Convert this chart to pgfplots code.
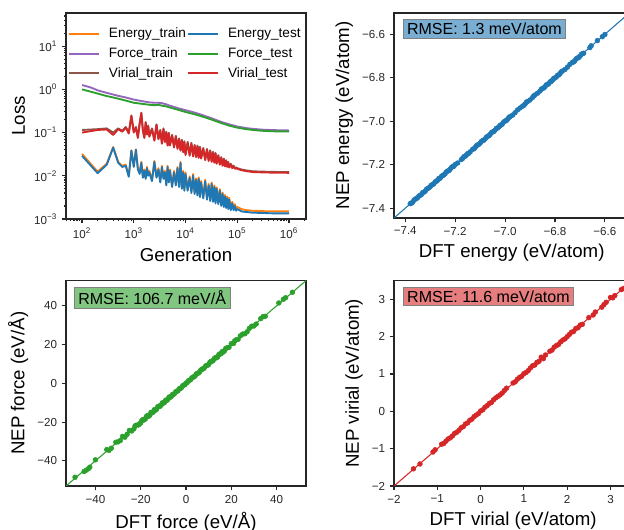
\documentclass[border=0pt]{standalone}
\usepackage{pgfplots}
\pgfplotsset{compat=1.18}
\usepackage{pgfplotstable}
\usepackage{fontspec}
\setmainfont{Liberation Sans}

\definecolor{tabblue}{HTML}{1F77B4}
\definecolor{taborange}{HTML}{FF7F0E}
\definecolor{tabgreen}{HTML}{2CA02C}
\definecolor{tabred}{HTML}{D62728}
\definecolor{tabpurple}{HTML}{9467BD}
\definecolor{tabbrown}{HTML}{8C564B}

% loss curves: generation, train, test
\pgfplotstableread{
g etr ete
100 0.032 0.029
200 0.0125 0.0115
300 0.019 0.018
400 0.046 0.045
500 0.021 0.020
600 0.017 0.016
700 0.018 0.017
800 0.010 0.0095
900 0.039 0.038
1000 0.017 0.016
1100 0.041 0.040
1200 0.015 0.014
1300 0.012 0.011
1400 0.021 0.020
1500 0.0097 0.009
1600 0.014 0.013
1700 0.009 0.0085
1800 0.016 0.015
1900 0.0107 0.010
2000 0.013 0.012
2250 0.008 0.0075
2500 0.022 0.021
2750 0.0096 0.009
3000 0.015 0.014
3250 0.0075 0.007
3500 0.017 0.016
3750 0.009 0.0085
4000 0.013 0.012
4250 0.0065 0.006
4500 0.017 0.016
4750 0.0075 0.007
5000 0.014 0.013
5500 0.006 0.0055
6000 0.013 0.012
6500 0.0065 0.006
7000 0.016 0.015
7500 0.006 0.0055
8000 0.021 0.020
8500 0.0054 0.005
9000 0.013 0.012
9500 0.0049 0.0045
10000 0.012 0.011
11000 0.0049 0.0045
12000 0.0097 0.009
13000 0.0044 0.004
14000 0.011 0.010
15000 0.0041 0.0038
16000 0.0087 0.008
17000 0.0038 0.0035
18000 0.0092 0.0085
19000 0.0035 0.0032
20000 0.0076 0.007
22000 0.0033 0.003
24000 0.0081 0.0075
26000 0.0031 0.0028
28000 0.0065 0.006
30000 0.0029 0.0026
32000 0.007 0.0065
34000 0.0027 0.0025
36000 0.006 0.0055
38000 0.0025 0.0023
40000 0.0054 0.005
43000 0.0024 0.0022
46000 0.0049 0.0045
49000 0.0022 0.002
52000 0.0041 0.0038
55000 0.0021 0.0019
58000 0.0036 0.0033
61000 0.002 0.0018
64000 0.0033 0.003
67000 0.0019 0.0017
70000 0.0031 0.0028
75000 0.0018 0.0016
80000 0.0025 0.0023
85000 0.0018 0.0016
90000 0.0022 0.002
95000 0.0017 0.00155
100000 0.0019 0.0017
120000 0.0017 0.0015
150000 0.0016 0.00145
200000 0.00155 0.0014
300000 0.00152 0.00138
500000 0.0015 0.00135
1000000 0.0015 0.00135
}\energyloss

\pgfplotstableread{
g ftr fte
100 1.26 1.00
150 1.10 0.88
200 0.95 0.80
300 0.83 0.70
400 0.76 0.65
500 0.71 0.61
700 0.65 0.55
1000 0.58 0.49
1500 0.53 0.46
2000 0.50 0.44
2500 0.49 0.43
3000 0.49 0.44
3500 0.48 0.42
4000 0.46 0.41
5000 0.42 0.38
7000 0.37 0.34
10000 0.33 0.30
15000 0.29 0.265
20000 0.26 0.24
30000 0.22 0.205
50000 0.175 0.165
70000 0.155 0.145
100000 0.138 0.13
150000 0.127 0.12
200000 0.122 0.115
300000 0.117 0.11
500000 0.114 0.107
1000000 0.112 0.106
}\forceloss

\pgfplotstableread{
g vtr vte
100 0.115 0.100
200 0.120 0.115
300 0.125 0.118
400 0.100 0.088
500 0.125 0.12
600 0.110 0.105
700 0.135 0.13
800 0.100 0.095
900 0.25 0.24
1000 0.105 0.10
1100 0.135 0.13
1200 0.079 0.075
1300 0.165 0.16
1400 0.29 0.28
1500 0.115 0.11
1600 0.079 0.075
1700 0.175 0.17
1800 0.095 0.09
1900 0.145 0.14
2000 0.084 0.08
2250 0.125 0.12
2500 0.068 0.065
2750 0.155 0.15
3000 0.073 0.07
3250 0.115 0.11
3500 0.058 0.055
3750 0.125 0.12
4000 0.063 0.06
4250 0.105 0.10
4500 0.052 0.05
4750 0.099 0.095
5000 0.052 0.05
5500 0.089 0.085
6000 0.047 0.045
6500 0.084 0.08
7000 0.044 0.042
7500 0.073 0.07
8000 0.040 0.038
8500 0.068 0.065
9000 0.037 0.035
9500 0.063 0.06
10000 0.032 0.030
11000 0.061 0.058
12000 0.031 0.029
13000 0.058 0.055
14000 0.030 0.028
15000 0.052 0.05
16000 0.028 0.027
17000 0.05 0.048
18000 0.027 0.026
19000 0.047 0.045
20000 0.026 0.025
22000 0.044 0.042
24000 0.024 0.023
26000 0.042 0.04
28000 0.023 0.022
30000 0.039 0.037
32000 0.022 0.021
34000 0.036 0.034
36000 0.021 0.02
38000 0.034 0.032
40000 0.020 0.019
43000 0.030 0.029
46000 0.019 0.018
49000 0.027 0.026
52000 0.018 0.017
55000 0.025 0.024
58000 0.017 0.0165
61000 0.023 0.022
64000 0.0167 0.016
67000 0.021 0.02
70000 0.016 0.0155
75000 0.019 0.018
80000 0.0157 0.015
85000 0.0172 0.0165
90000 0.015 0.0145
95000 0.0157 0.015
100000 0.015 0.0145
120000 0.014 0.0135
150000 0.0133 0.0128
200000 0.0127 0.0122
300000 0.0125 0.012
500000 0.0123 0.0118
1000000 0.0122 0.0117
}\virialloss

\pgfplotsset{
  common/.style={
    scale only axis, anchor=south west,
    axis line style={line width=1pt, black!85},
    tick align=outside, xtick pos=bottom, ytick pos=left,
    tick style={black!85, line width=0.8pt},
    major tick length=3.2pt, minor tick length=1.8pt,
    ticklabel style={font=\fontsize{8.7}{10}\selectfont, text=black!85},
    label style={font=\fontsize{14}{16}\selectfont},
  },
  parity/.style={only marks, mark=*, mark size=1.8pt, #1},
}

\begin{document}
\begin{tikzpicture}
\useasboundingbox (0,0) rectangle (468pt,397.5pt);
\clip (0,0) rectangle (468pt,397.5pt);

% ---------------- loss ----------------
\begin{axis}[common,
  at={(49.5pt,233.25pt)}, width=180pt, height=154.5pt,
  xmode=log, ymode=log,
  xmin=49, xmax=2.13e6, ymin=1e-3, ymax=58.6,
  xtick={1e2,1e3,1e4,1e5,1e6},
  xticklabels={10\textsuperscript{2},10\textsuperscript{3},10\textsuperscript{4},10\textsuperscript{5},10\textsuperscript{6}},
  ytick={1e-3,1e-2,1e-1,1,10},
  yticklabels={10\textsuperscript{−3},10\textsuperscript{−2},10\textsuperscript{−1},10\textsuperscript{0},10\textsuperscript{1}},
  minor xtick={50,60,70,80,90,200,300,400,500,600,700,800,900,2000,3000,4000,5000,6000,7000,8000,9000,20000,30000,40000,50000,60000,70000,80000,90000,200000,300000,400000,500000,600000,700000,800000,900000,2000000},
  minor ytick={0.002,0.003,0.004,0.005,0.006,0.007,0.008,0.009,0.02,0.03,0.04,0.05,0.06,0.07,0.08,0.09,0.2,0.3,0.4,0.5,0.6,0.7,0.8,0.9,2,3,4,5,6,7,8,9,20,30,40,50},
  xlabel={Generation}, ylabel={Loss},
  legend columns=2, legend cell align=left,
  legend style={at={(axis description cs:0.0,0.955)}, anchor=north west,
    draw=none, fill=none, font=\fontsize{10.2}{12}\selectfont,
    inner xsep=1.5pt, nodes={inner xsep=1pt},
    /tikz/every odd column/.append style={column sep=5.5pt},
    /tikz/every even column/.append style={column sep=0pt},
    row sep=2pt},
  legend image code/.code={\draw[#1, line width=1.5pt] (0pt,0pt) -- (22.5pt,0pt);},
  every axis plot/.append style={line width=1.4pt, line join=round},
]
\addlegendimage{taborange}\addlegendentry{Energy\_train}
\addlegendimage{tabblue}\addlegendentry{Energy\_test}
\addlegendimage{tabpurple}\addlegendentry{Force\_train}
\addlegendimage{tabgreen}\addlegendentry{Force\_test}
\addlegendimage{tabbrown}\addlegendentry{Virial\_train}
\addlegendimage{tabred}\addlegendentry{Virial\_test}
\addplot[taborange, forget plot] table[x=g, y=etr] {\energyloss};
\addplot[tabpurple, forget plot] table[x=g, y=ftr] {\forceloss};
\addplot[tabbrown, forget plot] table[x=g, y=vtr] {\virialloss};
\addplot[tabblue, forget plot] table[x=g, y=ete] {\energyloss};
\addplot[tabgreen, forget plot] table[x=g, y=fte] {\forceloss};
\addplot[tabred, forget plot] table[x=g, y=vte] {\virialloss};
\end{axis}

% ---------------- energy ----------------
\begin{axis}[common,
  at={(295.5pt,234pt)}, width=176.5pt, height=153.75pt,
  xmin=-7.445, xmax=-6.502, ymin=-7.445, ymax=-6.502,
  xtick={-7.4,-7.2,-7.0,-6.8,-6.6}, xticklabels={−7.4,−7.2,−7.0,−6.8,−6.6},
  ytick={-7.4,-7.2,-7.0,-6.8,-6.6}, yticklabels={−7.4,−7.2,−7.0,−6.8,−6.6},
  xlabel={DFT energy (eV/atom)}, ylabel={NEP energy (eV/atom)},
]
\addplot[tabblue, line width=0.8pt] coordinates {(-7.445,-7.445) (-6.502,-6.502)};
\addplot[parity=tabblue] coordinates {
(-7.38,-7.379) (-7.375,-7.377) (-7.37,-7.372) (-7.365,-7.363) (-7.36,-7.358)
(-7.355,-7.356) (-7.35,-7.351) (-7.345,-7.344) (-7.34,-7.341) (-7.335,-7.337)
(-7.33,-7.328) (-7.325,-7.326) (-7.32,-7.322) (-7.315,-7.313) (-7.31,-7.309)
(-7.305,-7.306) (-7.30,-7.301) (-7.295,-7.294) (-7.29,-7.291) (-7.285,-7.287)
(-7.28,-7.279) (-7.275,-7.276) (-7.27,-7.271) (-7.265,-7.263) (-7.26,-7.262)
(-7.255,-7.254) (-7.25,-7.249) (-7.245,-7.247) (-7.24,-7.241) (-7.235,-7.233)
(-7.23,-7.229) (-7.225,-7.227) (-7.22,-7.221) (-7.215,-7.213) (-7.21,-7.208)
(-7.205,-7.207) (-7.20,-7.199) (-7.19,-7.192) (-7.175,-7.176) (-7.17,-7.171)
(-7.165,-7.163) (-7.16,-7.161) (-7.155,-7.156) (-7.15,-7.149) (-7.145,-7.147)
(-7.14,-7.141) (-7.13,-7.129) (-7.125,-7.127) (-7.12,-7.121) (-7.115,-7.113)
(-7.11,-7.109) (-7.105,-7.106) (-7.10,-7.101) (-7.095,-7.093) (-7.09,-7.089)
(-7.085,-7.087) (-7.08,-7.081) (-7.075,-7.074) (-7.07,-7.069) (-7.065,-7.067)
(-7.06,-7.061) (-7.055,-7.053) (-7.05,-7.049) (-7.045,-7.047) (-7.04,-7.041)
(-7.035,-7.033) (-7.03,-7.031) (-7.025,-7.026) (-7.02,-7.019) (-7.015,-7.017)
(-7.01,-7.011) (-7.005,-7.003) (-7.00,-6.999) (-6.995,-6.997) (-6.99,-6.991)
(-6.985,-6.983) (-6.98,-6.979) (-6.97,-6.972) (-6.96,-6.961) (-6.95,-6.948)
(-6.94,-6.939) (-6.93,-6.931) (-6.925,-6.927) (-6.92,-6.921) (-6.915,-6.913)
(-6.91,-6.909) (-6.90,-6.902) (-6.89,-6.891) (-6.885,-6.883) (-6.88,-6.879)
(-6.87,-6.871) (-6.86,-6.861) (-6.855,-6.853) (-6.85,-6.849) (-6.845,-6.847)
(-6.84,-6.841) (-6.835,-6.833) (-6.83,-6.831) (-6.825,-6.827) (-6.82,-6.819)
(-6.815,-6.817) (-6.81,-6.811) (-6.805,-6.803) (-6.80,-6.801) (-6.795,-6.797)
(-6.79,-6.789) (-6.785,-6.787) (-6.78,-6.781) (-6.775,-6.773) (-6.77,-6.769)
(-6.76,-6.762) (-6.75,-6.751) (-6.74,-6.738) (-6.73,-6.729) (-6.725,-6.727)
(-6.72,-6.721) (-6.715,-6.713) (-6.71,-6.709) (-6.705,-6.707) (-6.70,-6.701)
(-6.695,-6.693) (-6.69,-6.689) (-6.685,-6.687) (-6.66,-6.661) (-6.655,-6.653)
(-6.63,-6.629) (-6.61,-6.611) (-6.60,-6.601)
};
\node[anchor=north west, fill=tabblue!60!white, draw=gray, line width=0.6pt,
  inner xsep=3pt, inner ysep=2.5pt, font=\fontsize{12}{14}\selectfont]
  at (rel axis cs:0.037,0.97) {RMSE: 1.3 meV/atom};
\end{axis}

% ---------------- force ----------------
\begin{axis}[common,
  at={(49.5pt,33pt)}, width=180pt, height=154pt,
  xmin=-53, xmax=53, ymin=-53, ymax=53,
  xtick={-40,-20,0,20,40}, xticklabels={−40,−20,0,20,40},
  ytick={-40,-20,0,20,40}, yticklabels={−40,−20,0,20,40},
  xlabel={DFT force (eV/Å)}, ylabel={NEP force (eV/Å)},
]
\addplot[tabgreen, line width=0.8pt] coordinates {(-53,-53) (53,53)};
\addplot[parity=tabgreen] coordinates {
(-49,-48.5) (-45,-45.5) (-44,-44.8) (-43,-44) (-42.5,-43.3) (-40,-39.5) (-35,-34.2)
(-34,-34.6) (-33,-33.5) (-31,-30.4) (-30,-30.2) (-29,-29.5) (-28,-27.4) (-27,-27.8)
(-26,-26.3) (-25,-24.3) (-24,-24.6) (-23,-23.5) (-22.5,-22.0) (-22,-21.6) (-21,-21.5)
(-20.5,-20.9) (-20,-20.4) (-19.5,-19.2) (-19,-18.7) (-18.5,-18.9) (-18,-18.4)
(-17.5,-17.1) (-17,-16.6) (-16.5,-17.0) (-16,-16.5) (-15.5,-15.0) (-15,-15.2)
(-14.5,-14.9) (-14,-13.6) (-13.5,-13.9) (-13,-13.4) (-12.5,-12.1) (-12,-11.8)
(-11.5,-11.9) (-11,-11.3) (-10.5,-10.1) (-10,-10.2) (-9.5,-9.9) (-9,-8.7)
(-8.5,-8.8) (-8,-8.3) (-7.5,-7.1) (-7,-7.2) (-6.5,-6.8) (-6,-5.8) (-5.5,-5.7)
(-5,-5.2) (-4.5,-4.3) (-4,-4.1) (-3.5,-3.8) (-3,-2.8) (-2.5,-2.7) (-2,-2.2)
(-1.5,-1.3) (-1,-0.9) (-0.5,-0.7) (0,0.1) (0.5,0.3) (1,1.2) (1.5,1.6) (2,1.8)
(2.5,2.7) (3,3.2) (3.5,3.3) (4,3.8) (4.5,4.7) (5,5.2) (5.5,5.3) (6,5.9) (6.5,6.8)
(7,7.3) (7.5,7.4) (8,7.8) (8.5,8.7) (9,9.2) (9.5,9.3) (10,9.7) (10.5,10.8)
(11,11.3) (11.5,11.4) (12,11.8) (12.5,12.8) (13,13.3) (13.5,13.2) (14,13.7)
(14.5,14.8) (15,15.2) (15.5,15.3) (16,16.4) (16.5,16.2) (17,16.8) (17.5,17.9)
(18,18.3) (19,18.6) (20,20.5) (21,20.6) (21.5,21.9) (22,22.4) (23,22.7) (24,24.5)
(25,25.4) (26,25.6) (27,26.6) (28,28.4) (29,29.5) (30,29.6) (31,30.6) (33,33.4)
(34,34.4) (35,34.6) (41,41.5) (43,43.4) (44,44.2) (47,47)
};
\node[anchor=north west, fill=tabgreen!60!white, draw=gray, line width=0.6pt,
  inner xsep=3pt, inner ysep=2.5pt, font=\fontsize{12}{14}\selectfont]
  at (rel axis cs:0.033,0.97) {RMSE: 106.7 meV/Å};
\end{axis}

% ---------------- virial ----------------
\begin{axis}[common,
  at={(295.5pt,33pt)}, width=178.6pt, height=154pt,
  xmin=-2, xmax=3.5, ymin=-2, ymax=3.5,
  xtick={-2,-1,0,1,2,3}, xticklabels={−2,−1,0,1,2,3},
  ytick={-2,-1,0,1,2,3}, yticklabels={−2,−1,0,1,2,3},
  xlabel={DFT virial (eV/atom)}, ylabel={NEP virial (eV/atom)},
]
\addplot[tabred, line width=0.8pt] coordinates {(-2,-2) (3.5,3.5)};
\addplot[parity=tabred] coordinates {
(-1.55,-1.54) (-1.4,-1.41) (-1.1,-1.09) (-1.05,-1.03) (-0.9,-0.88) (-0.85,-0.86)
(-0.8,-0.8) (-0.75,-0.74) (-0.7,-0.71) (-0.65,-0.66) (-0.6,-0.59) (-0.55,-0.56)
(-0.5,-0.51) (-0.45,-0.44) (-0.4,-0.41) (-0.35,-0.34) (-0.3,-0.31) (-0.25,-0.24)
(-0.2,-0.21) (-0.15,-0.14) (-0.1,-0.1) (-0.05,-0.06) (0,0.01) (0.05,0.04)
(0.1,0.11) (0.15,0.15) (0.2,0.21) (0.25,0.24) (0.3,0.31) (0.35,0.36) (0.4,0.4)
(0.45,0.44) (0.5,0.49) (0.55,0.56) (0.6,0.62) (0.75,0.76) (0.8,0.79) (0.85,0.86)
(0.9,0.91) (0.95,0.94) (1.0,1.01) (1.05,1.04) (1.1,1.09) (1.15,1.16) (1.2,1.22)
(1.25,1.24) (1.3,1.31) (1.35,1.34) (1.4,1.45) (1.45,1.41) (1.5,1.51) (1.6,1.61)
(1.65,1.64) (1.7,1.72) (1.75,1.76) (1.8,1.79) (1.85,1.86) (1.9,1.91) (1.95,1.94)
(2.0,2.0) (2.05,2.06) (2.1,2.12) (2.15,2.14) (2.2,2.22) (2.25,2.24) (2.3,2.31)
(2.35,2.33) (2.5,2.51) (2.6,2.58) (2.65,2.66) (2.8,2.79) (2.85,2.86) (2.9,2.92)
(3.0,3.05) (3.05,3.04) (3.1,3.1) (3.25,3.26) (3.3,3.29)
};
\node[anchor=north west, fill=tabred!60!white, draw=gray, line width=0.6pt,
  inner xsep=3pt, inner ysep=2.5pt, font=\fontsize{12}{14}\selectfont]
  at (rel axis cs:0.037,0.97) {RMSE: 11.6 meV/atom};
\end{axis}
\end{tikzpicture}
\end{document}
